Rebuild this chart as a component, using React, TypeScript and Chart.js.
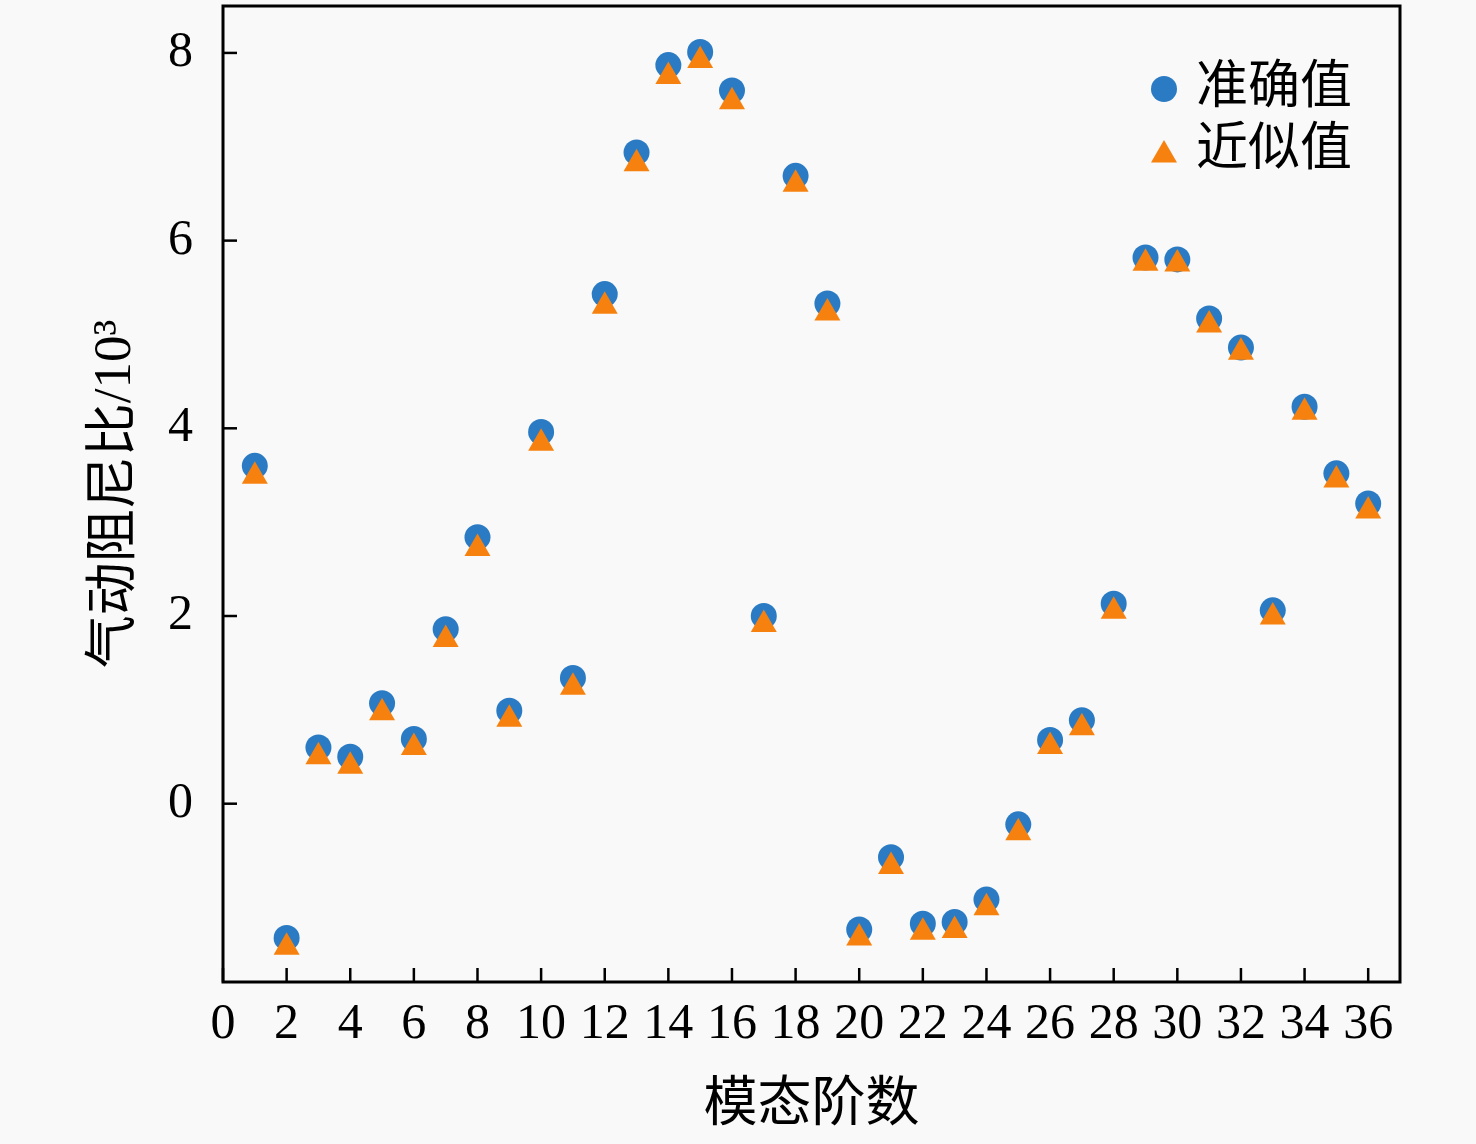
import { useEffect, useRef } from "react"
import { Chart, registerables } from "chart.js"
import { drawPoint } from "chart.js/helpers"

Chart.register(...registerables)

// 模态阶数 1..36
const modes = Array.from({ length: 36 }, (_, i) => i + 1)
const exactValues = [
  3.6, -1.43, 0.6, 0.5, 1.07, 0.69, 1.86, 2.84, 0.99, 3.96, 1.34, 5.43, 6.94, 7.87, 8.01, 7.6, 2.0, 6.69,
  5.33, -1.34, -0.57, -1.28, -1.26, -1.02, -0.22, 0.68, 0.89, 2.13, 5.82, 5.8, 5.17, 4.86, 2.06, 4.23, 3.52, 3.2,
]
const approxValues = [
  3.49, -1.53, 0.5, 0.4, 0.97, 0.6, 1.75, 2.72, 0.9, 3.84, 1.24, 5.3, 6.82, 7.75, 7.92, 7.48, 1.91, 6.6,
  5.23, -1.43, -0.67, -1.37, -1.35, -1.11, -0.31, 0.61, 0.81, 2.05, 5.76, 5.75, 5.1, 4.81, 1.99, 4.17, 3.45, 3.12,
]
const seriesNames = ["准确值", "近似值"]
const xTickValues = [0, 2, 4, 6, 8, 10, 12, 14, 16, 18, 20, 22, 24, 26, 28, 30, 32, 34, 36]
const yTickValues = [0, 2, 4, 6, 8]

const BLUE = "#2a7bc3"
const ORANGE = "#f7810f"
const BG = "#f9f9f9"
const FONT = "'Liberation Serif', 'Noto Sans CJK SC', serif"

const framePlugin = {
  id: "frame",
  beforeDraw(chart: any) {
    const { ctx, width, height } = chart
    ctx.save()
    ctx.fillStyle = BG
    ctx.fillRect(0, 0, width, height)
    ctx.restore()
  },
  afterDraw(chart: any) {
    const { ctx, chartArea } = chart
    const { left, top, right, bottom } = chartArea
    ctx.save()
    ctx.strokeStyle = "#000"
    ctx.lineWidth = 3
    ctx.strokeRect(left, top, right - left, bottom - top)

    // inward tick marks
    ctx.lineWidth = 2.5
    const xs = chart.scales.x
    xs.ticks.forEach((t: any) => {
      const px = xs.getPixelForValue(t.value)
      ctx.beginPath()
      ctx.moveTo(px, bottom)
      ctx.lineTo(px, bottom - 14)
      ctx.stroke()
    })
    const ys = chart.scales.y
    ys.ticks.forEach((t: any) => {
      const py = ys.getPixelForValue(t.value)
      ctx.beginPath()
      ctx.moveTo(left, py)
      ctx.lineTo(left + 14, py)
      ctx.stroke()
    })

    // legend, top right inside the plot
    chart.data.datasets.forEach((ds: any, i: number) => {
      const cy = top + 83 + i * 62
      const isTri = ds.pointStyle === "triangle"
      ctx.fillStyle = ds.backgroundColor
      ctx.strokeStyle = ds.backgroundColor
      drawPoint(
        ctx,
        { pointStyle: ds.pointStyle, radius: ds.pointRadius, rotation: 0, borderWidth: 0 } as any,
        right - 236,
        isTri ? cy + 4 : cy
      )
      ctx.fillStyle = "#000"
      ctx.font = `52px ${FONT}`
      ctx.textBaseline = "middle"
      ctx.textAlign = "left"
      ctx.fillText(seriesNames[i], right - 204, cy)
    })
    ctx.restore()
  },
}

export default function App() {
  const canvasRef = useRef<HTMLCanvasElement | null>(null)
  const chartInstance = useRef<Chart | null>(null)

  useEffect(() => {
    if (!canvasRef.current) return
    const ctx = canvasRef.current.getContext("2d")
    if (!ctx) return

    chartInstance.current = new Chart(ctx, {
      type: "scatter",
      data: {
        datasets: [
          {
            label: seriesNames[0],
            data: modes.map((m, i) => ({ x: m, y: exactValues[i] })),
            backgroundColor: BLUE,
            pointStyle: "circle",
            pointRadius: 13,
            pointBorderWidth: 0,
            order: 2,
          },
          {
            label: seriesNames[1],
            data: modes.map((m, i) => ({ x: m, y: approxValues[i] })),
            backgroundColor: ORANGE,
            pointStyle: "triangle",
            pointRadius: 15,
            pointBorderWidth: 0,
            order: 1,
          },
        ],
      },
      options: {
        animation: false,
        responsive: true,
        maintainAspectRatio: false,
        devicePixelRatio: 1,
        layout: { autoPadding: false, padding: { left: 0, top: 6, right: 76, bottom: 0 } },
        plugins: {
          legend: { display: false },
          tooltip: { enabled: false },
        },
        scales: {
          x: {
            type: "linear",
            min: 0,
            max: 37,
            grid: { display: false },
            border: { display: false },
            afterBuildTicks: (scale: any) => {
              scale.ticks = xTickValues.map((v) => ({ value: v }))
            },
            afterFit: (scale: any) => {
              scale.height = 162
              scale.paddingLeft = 0
              scale.paddingRight = 0
            },
            ticks: {
              padding: 5,
              color: "#000",
              maxRotation: 0,
              autoSkip: false,
              font: { family: FONT, size: 50 },
            },
            title: {
              display: true,
              text: "模态阶数",
              color: "#000",
              padding: { top: 0, bottom: 5 },
              font: { family: FONT, size: 54 },
            },
          },
          y: {
            type: "linear",
            min: -1.9,
            max: 8.5,
            grid: { display: false },
            border: { display: false },
            afterBuildTicks: (scale: any) => {
              scale.ticks = yTickValues.map((v) => ({ value: v }))
            },
            afterFit: (scale: any) => {
              scale.width = 223
              scale.paddingTop = 0
              scale.paddingBottom = 0
            },
            ticks: {
              padding: 22,
              color: "#000",
              font: { family: FONT, size: 50 },
            },
            title: {
              display: true,
              text: "气动阻尼比/10³",
              color: "#000",
              padding: { top: 84, bottom: 0 },
              font: { family: FONT, size: 53 },
            },
          },
        },
      },
      plugins: [framePlugin],
    })

    return () => {
      if (chartInstance.current) {
        chartInstance.current.destroy()
      }
    }
  }, [])

  return (
    <div style={{ position: "absolute", left: 0, top: 0, width: "1476px", height: "1144px", background: BG }}>
      <canvas ref={canvasRef}></canvas>
    </div>
  )
}
